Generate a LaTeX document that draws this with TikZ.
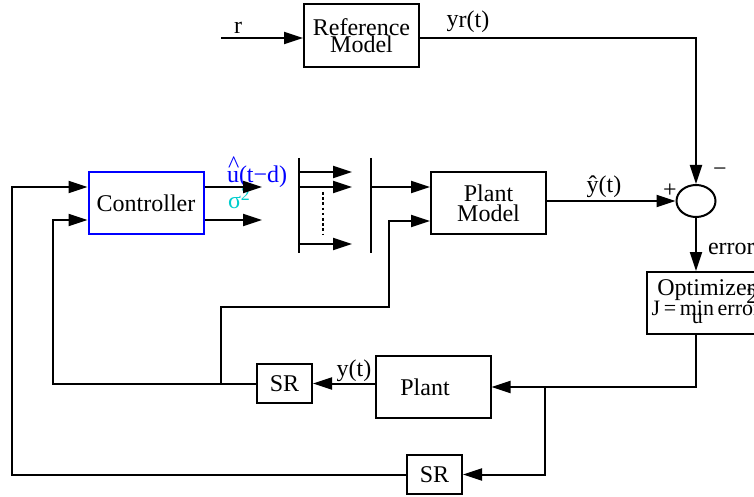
\documentclass[tikz,border=0pt]{standalone}
\usepackage{fontspec}
\setmainfont{Liberation Serif}
\usetikzlibrary{arrows.meta,shapes.geometric}
\definecolor{ctrlblue}{RGB}{0,0,255}
\definecolor{sigcyan}{RGB}{0,205,205}
\newcommand\tightlines{\lineskiplimit=-20pt\relax}

\begin{document}
\begin{tikzpicture}[
x=0.5pt,y=-0.5pt,
font=\fontsize{12}{8.5}\selectfont,
line width=1pt,
>={Triangle[length=9.5pt,width=6pt]},
blk/.style={draw,rectangle,align=center,inner sep=1pt,minimum width=57.5pt,minimum height=31pt},
srbox/.style={draw,rectangle,inner sep=1pt,minimum width=27.5pt,minimum height=19.5pt},
lbl/.style={inner sep=0pt}
]

\clip (0,0) rectangle (754,497);

%%%%%%%%%%%%%%%%%%%%%%%%%%%%%%%%%%%%%%%%%%%%%%%%%%%%%%
% BLOCKS
%%%%%%%%%%%%%%%%%%%%%%%%%%%%%%%%%%%%%%%%%%%%%%%%%%%%%%

\node[
blk,
minimum height=31.5pt
](refm)
at (361.5,35.5)
{Reference\\Model};

\node[
blk,
draw=ctrlblue
](ctrl)
at (146,203.5)
{Controller};

\node[
blk
](pmod)
at (488.5,203.5)
{Plant\\[1.5pt]Model};

\node[
draw,
ellipse,
minimum width=19.5pt,
minimum height=16pt,
inner sep=0pt
](sum)
at (696,201)
{};

\node[
blk,
minimum width=59pt,
font=\fontsize{12}{8.5}\selectfont\tightlines,
text depth=5pt
](opt)
at (706,303)
{Optimizer\\[1.5pt]{\fontsize{11}{8.5}\selectfont J\,=\,\rlap{\kern6pt\smash{\raisebox{-4pt}{u}}}min\,error\llap{\smash{\raisebox{6pt}{2}}\kern1.5pt}}};

\node[
blk
](plant)
at (433,387)
{Plant\kern8pt};

\node[srbox](sr1) at (284.5,383.5) {SR};

\node[srbox](sr2) at (434.5,474.5) {SR};

%%%%%%%%%%%%%%%%%%%%%%%%%%%%%%%%%%%%%%%%%%%%%%%%%%%%%%
% MULTIPLEXER
%%%%%%%%%%%%%%%%%%%%%%%%%%%%%%%%%%%%%%%%%%%%%%%%%%%%%%

\coordinate (muxa) at (299,158);
\coordinate (muxb) at (371,158);

\draw (muxa) -- ++(0,95);
\draw (muxb) -- ++(0,95);

\foreach \yy in {172,187,244}
  \draw[->] (299,\yy) -- (352,\yy);

\draw[line width=1.2pt,dash pattern=on 1.3pt off 1.3pt] (323,192) -- (323,234);

%%%%%%%%%%%%%%%%%%%%%%%%%%%%%%%%%%%%%%%%%%%%%%%%%%%%%%
% LABELS
%%%%%%%%%%%%%%%%%%%%%%%%%%%%%%%%%%%%%%%%%%%%%%%%%%%%%%

\node[lbl](rlbl) at (238,28) {r};
\node[lbl](yrlbl) at (468,22) {y\raisebox{-0.5pt}{r(t)}};
\node[lbl,text=ctrlblue,anchor=base west](ulbl) at (226,183)
{\rlap{\kern0.5pt\raisebox{5pt}{\textasciicircum}}u(t−d)};
\node[lbl,text=sigcyan,anchor=base west](slbl) at (227,209)
{σ\raisebox{4.5pt}{\fontsize{9}{9}\selectfont 2}};
\node[lbl](yhlbl) at (604,187) {ŷ(t)};
\node[lbl](plbl) at (670,191) {+};
\node[lbl](mlbl) at (720,172) {−};
\node[lbl,anchor=west](elbl) at (707,249) {error};
\node[lbl](ylbl) at (354,371) {y(t)};

%%%%%%%%%%%%%%%%%%%%%%%%%%%%%%%%%%%%%%%%%%%%%%%%%%%%%%
% LINES
%%%%%%%%%%%%%%%%%%%%%%%%%%%%%%%%%%%%%%%%%%%%%%%%%%%%%%

\coordinate (rin) at (221,38);
\coordinate (ucor) at (262,187);
\coordinate (scor) at (262,220);
\coordinate (fbout) at (12,187);
\coordinate (fbin) at (53,220);
\coordinate (tap) at (221,383.5);
\coordinate (bend) at (389,307);
\coordinate (split) at (545,387);

\draw[->] (rin) -- (refm.west |- rin);

\draw[->] (refm.east |- rin) -| (sum.north);

\draw[->] (ctrl.east |- ucor) -- (ucor);

\draw[->] (ctrl.east |- scor) -- (scor);

\draw[->] (371,187) -- (pmod.west |- 0,187);

\draw[->] (pmod.east |- sum.west) -- (sum.west);

\draw[->] (sum.south) -- (sum.south |- opt.north);

\draw[->] (sum.south |- opt.south) |- (plant.east);

\draw[->] (split) |- (sr2.east);

\draw[->] (sr2.west) -| (fbout) -- (ctrl.west |- fbout);

\draw[->] (plant.west |- sr1.east) -- (sr1.east);

\draw[->] (sr1.west) -| (fbin) -- (ctrl.west |- fbin);

\draw[->] (tap) |- (bend) |- (pmod.west |- 0,221);

\end{tikzpicture}
\end{document}
